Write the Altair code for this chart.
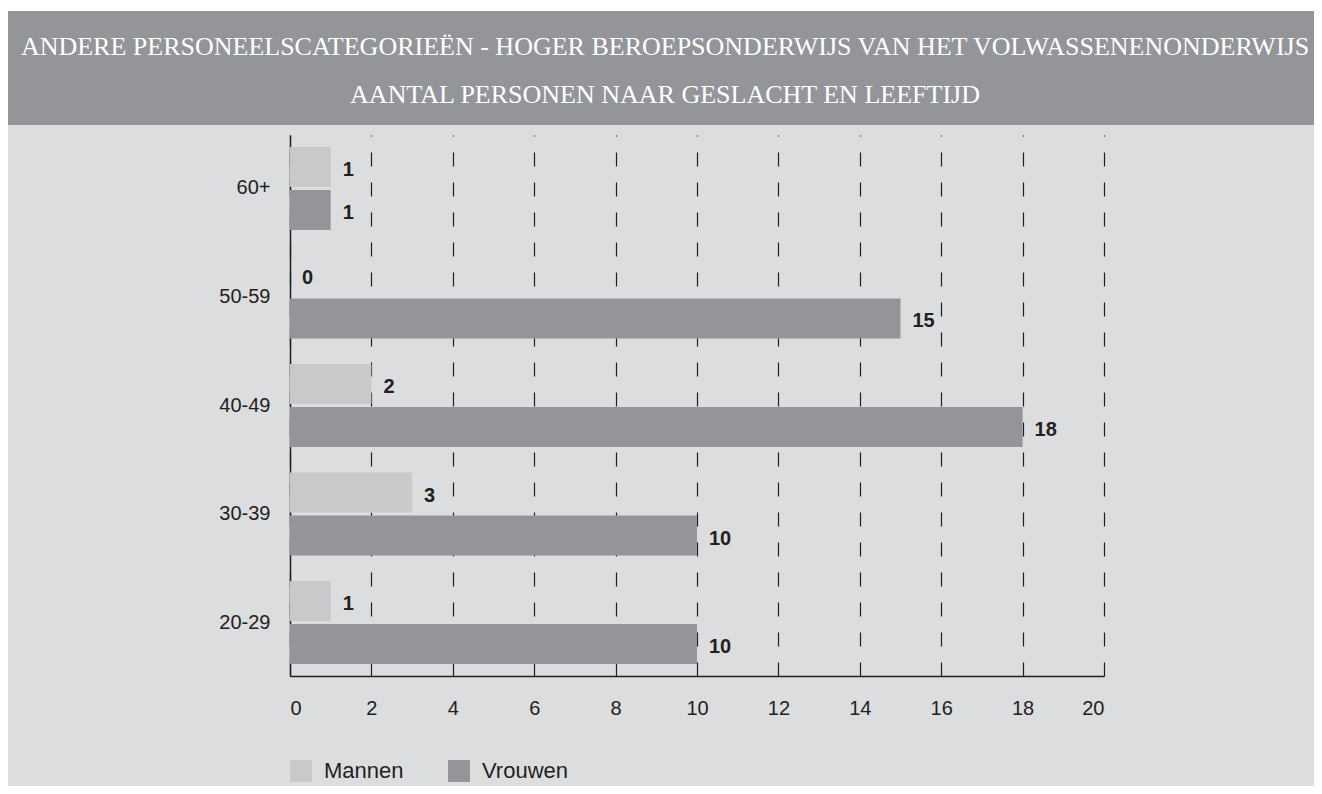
import altair as alt
import pandas as pd

# ---- data ----
AGES = ["60+", "50-59", "40-49", "30-39", "20-29"]
MANNEN = [1, 0, 2, 3, 1]
VROUWEN = [1, 15, 18, 10, 10]
GENDERS = ["Mannen", "Vrouwen"]
X_TICKS = [0, 2, 4, 6, 8, 10, 12, 14, 16, 18, 20]
TITLE_LINES = [
    "ANDERE PERSONEELSCATEGORIEËN - HOGER BEROEPSONDERWIJS VAN HET VOLWASSENENONDERWIJS",
    "AANTAL PERSONEN NAAR GESLACHT EN LEEFTIJD",
]

rows = []
for age, m, v in zip(AGES, MANNEN, VROUWEN):
    rows.append({"leeftijd": age, "geslacht": "Mannen", "aantal": m})
    rows.append({"leeftijd": age, "geslacht": "Vrouwen", "aantal": v})
df = pd.DataFrame(rows)

DARK = "#231f20"
BG = "#dcdddf"
LIGHT_BAR = "#c8c9cb"
DARK_BAR = "#939598"

y_enc = alt.Y(
    "leeftijd:N",
    sort=AGES,
    scale=alt.Scale(paddingInner=0.235, paddingOuter=0.11),
    axis=alt.Axis(
        title=None, ticks=False, labelFontSize=20, labelColor=DARK,
        labelFont="Liberation Sans", labelPadding=20,
        domainColor=DARK, domainWidth=1.5, grid=False,
    ),
)
yoff_enc = alt.YOffset(
    "geslacht:N", sort=GENDERS,
    scale=alt.Scale(paddingInner=0.07, paddingOuter=0),
)
x_enc = alt.X(
    "aantal:Q",
    scale=alt.Scale(domain=[0, 20], nice=False),
    axis=alt.Axis(
        title=None, values=X_TICKS, ticks=False, labelFontSize=20,
        labelColor=DARK, labelFont="Liberation Sans", labelPadding=22,
        domainColor=DARK, domainWidth=1.5,
        grid=True, gridColor=DARK, gridDash=[14, 16], gridWidth=1.2,
    ),
)

bars = alt.Chart(df).mark_bar().encode(
    y=y_enc,
    yOffset=yoff_enc,
    x=x_enc,
    color=alt.Color(
        "geslacht:N",
        scale=alt.Scale(domain=GENDERS, range=[LIGHT_BAR, DARK_BAR]),
        legend=alt.Legend(
            title=None, orient="none", direction="horizontal",
            legendX=0, legendY=625, symbolType="square", symbolSize=484,
            symbolStrokeWidth=0, symbolOpacity=1, labelFontSize=22,
            labelFont="Liberation Sans", labelColor=DARK, labelOffset=12,
            columnPadding=44, padding=0,
        ),
    ),
)

labels = alt.Chart(df).mark_text(
    align="left", baseline="middle", dx=12, dy=3,
    fontSize=20, fontWeight="bold", font="Liberation Sans", color=DARK,
).encode(
    y=alt.Y("leeftijd:N", sort=AGES),
    yOffset=alt.YOffset("geslacht:N", sort=GENDERS),
    x=alt.X("aantal:Q"),
    text=alt.Text("aantal:Q"),
)

deco_df = pd.DataFrame({"k": [0]})
top_strip = alt.Chart(deco_df).mark_rect(color="white").encode(
    x=alt.value(-282), x2=alt.value(1024),
    y=alt.value(-127), y2=alt.value(-124),
)
banner = alt.Chart(deco_df).mark_rect(color=DARK_BAR).encode(
    x=alt.value(-282), x2=alt.value(1024),
    y=alt.value(-124), y2=alt.value(-10),
)

title1 = alt.Chart(pd.DataFrame({"t": [TITLE_LINES[0]]})).mark_text(
    font="Liberation Serif", fontSize=26, color="white",
    align="center", baseline="alphabetic",
).encode(x=alt.value(375), y=alt.value(-80), text="t:N")

title2 = alt.Chart(pd.DataFrame({"t": [TITLE_LINES[1]]})).mark_text(
    font="Liberation Serif", fontSize=26, color="white",
    align="center", baseline="alphabetic",
).encode(x=alt.value(375), y=alt.value(-32), text="t:N")

chart = alt.layer(top_strip, banner, title1, title2, bars, labels).properties(
    width=814,
    height=541,
    background=BG,
    padding={"left": 282, "top": 127, "right": 210, "bottom": 110},
    autosize=alt.AutoSizeParams(type="none"),
).configure_view(stroke=None)

chart.save("out.html", embed_options={"renderer": "svg", "actions": False})
